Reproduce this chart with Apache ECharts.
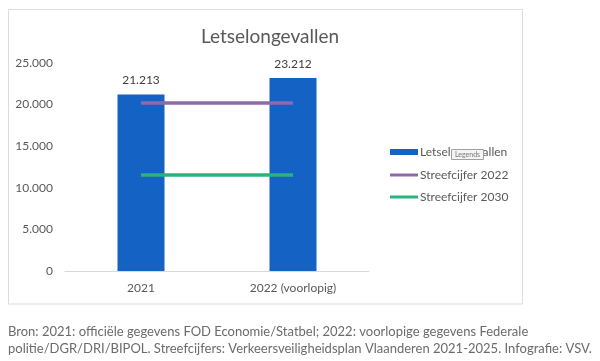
<!DOCTYPE html>
<html><head><meta charset="utf-8">
<script src="https://cdn.jsdelivr.net/npm/echarts@6/dist/echarts.min.js"></script>
<style>html,body{margin:0;padding:0;background:#fff}#c{width:600px;height:361px}</style>
</head><body><div id="c"></div>
<script>
const categories = ['2021', '2022 (voorlopig)'];
const accidents = [21213, 23212];
const target2022 = [20200, 20200];
const target2030 = [11550, 11550];
const yTicks = [0, 5000, 10000, 15000, 20000, 25000];
const seriesNames = ['Letselongevallen', 'Streefcijfer 2022', 'Streefcijfer 2030'];
const footnote1 = 'Bron: 2021: officiële gegevens FOD Economie/Statbel; 2022: voorlopige gegevens Federale';
const footnote2 = 'politie/DGR/DRI/BIPOL. Streefcijfers: Verkeersveiligheidsplan Vlaanderen 2021-2025. Infografie: VSV.';

const FONT = 'Lato';
const fmt = v => String(v).replace(/\B(?=(\d{3})+(?!\d))/g, '.');

const chart = echarts.init(document.getElementById('c'));
chart.setOption({
  animation: false,
  textStyle: { fontFamily: FONT },
  title: {
    text: 'Letselongevallen', left: 265, top: 22, textAlign: 'center',
    textStyle: { fontFamily: FONT, fontSize: 19, fontWeight: 'normal', color: '#595959' }
  },
  grid: { left: 65, right: 231, top: 63, bottom: 90 },
  xAxis: {
    type: 'category', data: categories,
    axisLine: { lineStyle: { color: '#d9d9d9', width: 1 } },
    axisTick: { show: false },
    axisLabel: { color: '#595959', fontSize: 12, margin: 11, fontFamily: FONT }
  },
  yAxis: {
    type: 'value', min: yTicks[0], max: yTicks[yTicks.length - 1], interval: 5000,
    splitLine: { show: false },
    axisLabel: { color: '#595959', fontSize: 12, margin: 12, formatter: fmt, fontFamily: FONT }
  },
  legend: [{
    orient: 'vertical', left: 385, top: 141, itemWidth: 28, itemHeight: 6, itemGap: 10,
    data: [{ name: seriesNames[0], icon: 'rect' }],
    textStyle: { color: '#595959', fontSize: 12, fontFamily: FONT, padding: [0, 0, 0, -3] }
  }, {
    orient: 'vertical', left: 385, top: 164, itemWidth: 28, itemHeight: 3, itemGap: 10,
    data: [{ name: seriesNames[1], icon: 'rect' }, { name: seriesNames[2], icon: 'rect' }],
    textStyle: { color: '#595959', fontSize: 12, fontFamily: FONT, padding: [0, 0, 0, -3] }
  }],
  series: [{
    name: seriesNames[0], type: 'bar', data: accidents, barWidth: 47,
    itemStyle: { color: '#1462c4' },
    label: { show: true, position: 'top', distance: 8, formatter: p => fmt(p.value), color: '#404040', fontSize: 12, fontFamily: FONT }
  }, {
    name: seriesNames[1], type: 'line', data: target2022, symbol: 'none',
    lineStyle: { color: '#8c6aab', width: 3.5 }, itemStyle: { color: '#8c6aab' }
  }, {
    name: seriesNames[2], type: 'line', data: target2030, symbol: 'none',
    lineStyle: { color: '#2bb37c', width: 3.5 }, itemStyle: { color: '#2bb37c' }
  }],
  graphic: [
    { type: 'rect', shape: { x: 8.5, y: 9.5, width: 514, height: 294.5 }, style: { fill: 'none', stroke: '#dcdcdc', lineWidth: 1 }, z: -1 },
    { type: 'rect', shape: { x: 451.5, y: 149.5, width: 32, height: 10 }, style: { fill: '#f4f4f4', stroke: '#a0a0a0', lineWidth: 1 }, z: 100 },
    { type: 'text', x: 467.5, y: 154.5, style: { text: 'Legends', fontSize: 7, fontFamily: FONT, fill: '#777', align: 'center', verticalAlign: 'middle' }, z: 101 },
    { type: 'text', x: 8, y: 332, style: { text: footnote1, fontSize: 13, fontFamily: FONT, fill: '#6b6b6b', verticalAlign: 'middle' } },
    { type: 'text', x: 8, y: 349, style: { text: footnote2, fontSize: 13, fontFamily: FONT, fill: '#6b6b6b', verticalAlign: 'middle' } }
  ]
});
</script></body></html>
